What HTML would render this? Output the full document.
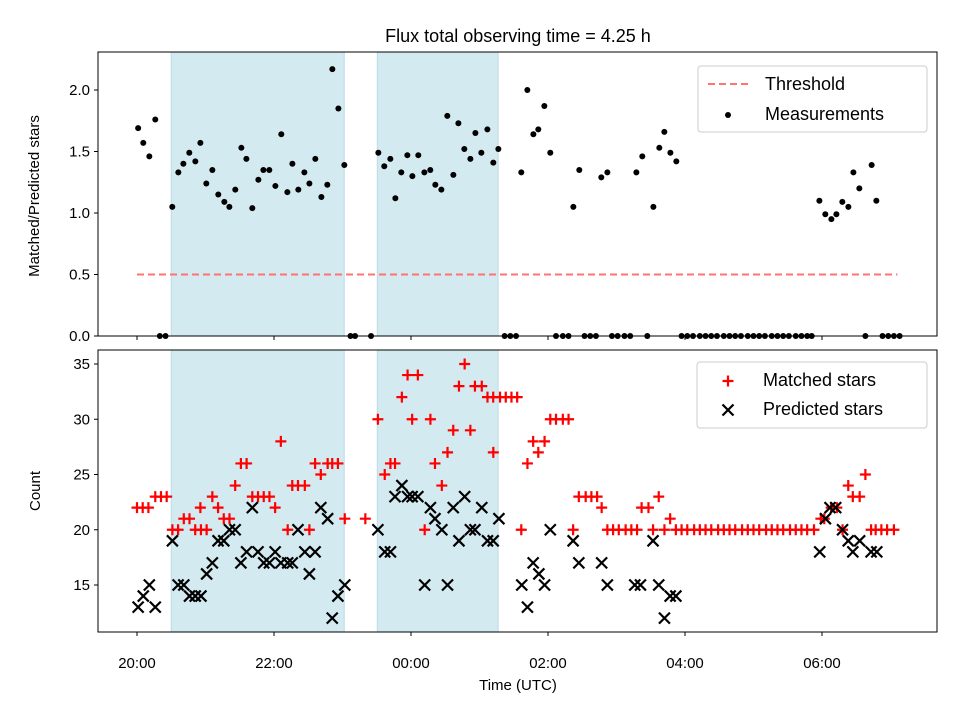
<!DOCTYPE html>
<html><head><meta charset="utf-8"><style>
body{margin:0;background:#fff}
svg{display:block;font-family:"Liberation Sans","DejaVu Sans",sans-serif}
</style></head><body>
<svg id="c" width="960" height="720" viewBox="0 0 960 720"></svg>
<script>
// ---- data (time in minutes after 20:00 UTC) ----
const measTimes=[1,5.5,10.8,16,30.9,36.2,40.6,45.8,51.1,55.5,60.7,66,71.2,76.5,80.9,86.1,91.4,95.8,101,106.3,110.7,115.9,121.2,126.4,131.7,136.1,141.3,146.6,151,156.2,161.5,166.7,171.1,176.4,181.6,211.4,216.6,221.9,226.3,231.5,236.8,241.2,246.4,251.7,256.9,261.3,266.6,271.8,277.1,281.5,286.7,292,296.4,301.6,306.9,312.1,316.5,336.6,341.9,347.2,351.5,356.8,362,382.2,387.4,406.7,412,437.4,442.6,452.3,457.5,461.9,467.2,472.4,597.7,602.9,608.2,612.6,617.8,623.1,627.5,632.7,643.5,647.6];
const measValues=[1.69,1.57,1.46,1.76,1.05,1.33,1.40,1.49,1.42,1.57,1.24,1.35,1.15,1.09,1.05,1.19,1.53,1.44,1.04,1.27,1.35,1.35,1.22,1.64,1.17,1.40,1.19,1.33,1.24,1.44,1.13,1.23,2.17,1.85,1.39,1.49,1.38,1.44,1.12,1.33,1.47,1.30,1.47,1.33,1.35,1.23,1.19,1.79,1.31,1.73,1.52,1.44,1.65,1.49,1.68,1.41,1.52,1.33,2.00,1.64,1.68,1.87,1.49,1.05,1.35,1.29,1.33,1.33,1.46,1.05,1.53,1.66,1.49,1.42,1.10,0.99,0.95,0.99,1.09,1.05,1.33,1.20,1.39,1.10];
const zeroTimes=[20,25,187,191,205,322,327,332,367,373,378,392,397,402,416,421,427,432,447,477,482,487,493,498,503,508,514,519,524,529,535,540,545,550,556,561,566,571,577,582,587,591,638,653,658,663,668];
const threshold=0.5, thrStart=0, thrEnd=666;
const matchedTimes=[0,5,10,16,21,26,31,36,41,46,51,55.5,56,61,66,71,76,81,86,91,96,101,106,111,116,121,126,132,136,141,147,151,156,161,167,171,176,182,200,211,217,222,226,232,237,241,246,252,257,261,267,272,277,282,287,292,296,302,307,312,318,323,328,333,312.1,336.6,342,347,351.5,357,362,367,373,378,382,387,393,398,403,407,412,417,422,428,433,438,442,448,452,457,462,467,472,477,482,488,493,498,503,509,514,519,524,530,535,540,545,551,556,561,566,572,577,582,587,593,599,602,608,613,618,623,627,633,638,643,647,652,657,663,668];
const matchedValues=[22,22,22,23,23,23,20,20,21,21,20,22,20,20,23,22,21,21,24,26,26,23,23,23,23,22,28,20,24,24,24,20,26,25,26,26,26,21,21,30,25,26,26,32,34,30,34,20,30,26,24,27,29,33,35,29,33,33,32,32,32,32,32,32,27,20,26,28,27,28,30,30,30,30,20,23,23,23,23,22,20,20,20,20,20,20,22,22,20,23,20,21,20,20,20,20,20,20,20,20,20,20,20,20,20,20,20,20,20,20,20,20,20,20,20,20,21,21,22,22,20,24,23,23,25,20,20,20,20,20];
const predTimes=[1,5.5,10.8,16,31,36,41,46,51,56,61,66,71,76,81,86,91,96,101,106,111,116,121,126,132,136,141,147,151,156,161,167,171,176,182,211,217,222,226,232,237,241,246,252,257,261,267,272,277,282,287,292,296,302,307,312,317,337,342,347,352,357,362,382,387,407,412,436,441,452,457,462,467,472,598,603,607,612,618,623,627,633,643,648];
const predValues=[13,14,15,13,19,15,15,14,14,14,16,17,19,19,20,20,17,18,22,18,17,17,18,17,17,17,20,18,16,18,22,21,12,14,15,20,18,18,23,24,23,23,23,15,22,21,20,15,22,19,23,20,20,22,19,19,21,15,13,17,16,15,20,19,17,17,15,15,15,19,15,12,14,14,18,21,22,22,20,19,18,19,18,18];
const shadeStarts=[30,210.5];
const shadeEnds=[181.5,316.3];
const xTickMins=[0,120,240,360,480,600];
const xTickLabels=["20:00","22:00","00:00","02:00","04:00","06:00"];
const topTicks=[0,0.5,1.0,1.5,2.0];
const botTicks=[15,20,25,30,35];

// ---- scales ----
const L=98,R=937;
const X=m=>137+m*68.5/60;
const Yt=v=>336-v*123;
const Yb=v=>585-(v-15)*11.05;
const svg=document.getElementById('c');
const NS='http://www.w3.org/2000/svg';
function mk(tag,attrs,parent){const e=document.createElementNS(NS,tag);for(const k in attrs)e.setAttribute(k,attrs[k]);(parent||svg).appendChild(e);return e;}

let t=mk('text',{x:518,y:42,'font-size':18,'text-anchor':'middle',fill:'#000'});t.textContent='Flux total observing time = 4.25 h';



function panel(y0,y1,name){
  const g=mk('g',{});
  
  
  for(let i=0;i<shadeStarts.length;i++){
    const r=mk('rect',{x:X(shadeStarts[i]),y:y0,width:X(shadeEnds[i])-X(shadeStarts[i]),height:y1-y0,fill:'#d4eaf1',stroke:'#b9dbe7','stroke-width':1},g);
    
    
  }
  return g;
}
function frame(y0,y1,g){
  mk('rect',{x:L,y:y0,width:R-L,height:y1-y0,fill:'none',stroke:'#000','stroke-width':1},g);
}

// ----- top panel -----
const gt=panel(52,336,'ratio-panel');
for(const v of topTicks){
  mk('line',{x1:L-4,x2:L,y1:Yt(v),y2:Yt(v),stroke:'#000'},gt);
  const tx=mk('text',{x:L-8,y:Yt(v)+5,'font-size':15,'text-anchor':'end'},gt);tx.textContent=v.toFixed(1);
  
  
}
for(const m of xTickMins) mk('line',{x1:X(m),x2:X(m),y1:336,y2:340,stroke:'#000'},gt);
const th=mk('line',{x1:X(thrStart),x2:X(thrEnd),y1:Yt(threshold),y2:Yt(threshold),stroke:'#ff7373','stroke-width':2,'stroke-dasharray':'7,4'},gt);


for(let i=0;i<measTimes.length;i++){
  const c=mk('circle',{cx:X(measTimes[i]),cy:Yt(measValues[i]),r:3,fill:'#000'},gt);
  
  
}
for(const m of zeroTimes){
  const c=mk('circle',{cx:X(m),cy:Yt(0),r:3,fill:'#000'},gt);
  
  
}
frame(52,336,gt);
let yl=mk('text',{x:0,y:0,'font-size':15,'text-anchor':'middle',transform:'translate(39,196) rotate(-90)'});yl.textContent='Matched/Predicted stars';


const lg=mk('g',{});


mk('rect',{x:698,y:66,width:229,height:66,rx:3,fill:'#fff','fill-opacity':0.8,stroke:'#ccc'},lg);
mk('line',{x1:708,x2:748,y1:84,y2:84,stroke:'#ff7373','stroke-width':2,'stroke-dasharray':'7,4'},lg);
let l1=mk('text',{x:765,y:90,'font-size':18},lg);l1.textContent='Threshold';


mk('circle',{cx:728,cy:115,r:3,fill:'#000'},lg);
let l2=mk('text',{x:765,y:120,'font-size':18},lg);l2.textContent='Measurements';



// ----- bottom panel -----
const gb=panel(350,632,'count-panel');
for(const v of botTicks){
  mk('line',{x1:L-4,x2:L,y1:Yb(v),y2:Yb(v),stroke:'#000'},gb);
  const tx=mk('text',{x:L-8,y:Yb(v)+5,'font-size':15,'text-anchor':'end'},gb);tx.textContent=v;
  
  
}
for(let i=0;i<xTickMins.length;i++){
  const m=xTickMins[i];
  mk('line',{x1:X(m),x2:X(m),y1:632,y2:636,stroke:'#000'},gb);
  const tx=mk('text',{x:X(m),y:668,'font-size':15,'text-anchor':'middle'},gb);tx.textContent=xTickLabels[i];
  
  
}
function plus(x,y,g){return mk('path',{d:`M${x-5.5},${y}H${x+5.5}M${x},${y-5.5}V${y+5.5}`,stroke:'#f00','stroke-width':2.2,fill:'none'},g);}
function cross(x,y,g){return mk('path',{d:`M${x-5.5},${y-5.5}L${x+5.5},${y+5.5}M${x-5.5},${y+5.5}L${x+5.5},${y-5.5}`,stroke:'#000','stroke-width':2.2,fill:'none'},g);}
for(let i=0;i<matchedTimes.length;i++){
  const p=plus(X(matchedTimes[i]),Yb(matchedValues[i]),gb);
  
  
}
for(let i=0;i<predTimes.length;i++){
  const p=cross(X(predTimes[i]),Yb(predValues[i]),gb);
  
  
}
frame(350,632,gb);
let yl2=mk('text',{x:0,y:0,'font-size':15,'text-anchor':'middle',transform:'translate(40,491) rotate(-90)'});yl2.textContent='Count';


let xl=mk('text',{x:518,y:690,'font-size':15,'text-anchor':'middle'});xl.textContent='Time (UTC)';


const lg2=mk('g',{});


mk('rect',{x:697,y:362,width:230,height:66,rx:3,fill:'#fff','fill-opacity':0.8,stroke:'#ccc'},lg2);
plus(728,381,lg2);
let l3=mk('text',{x:763,y:386,'font-size':18},lg2);l3.textContent='Matched stars';


cross(728,410,lg2);
let l4=mk('text',{x:763,y:415,'font-size':18},lg2);l4.textContent='Predicted stars';


</script>
</body></html>
